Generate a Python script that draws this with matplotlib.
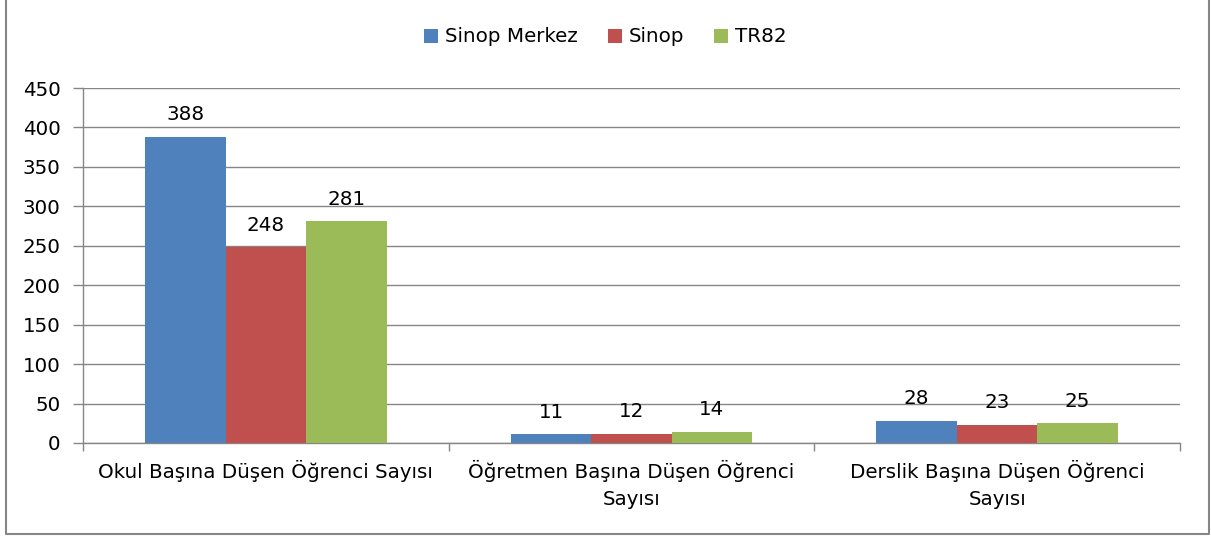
import numpy as np
import matplotlib.pyplot as plt
from matplotlib.lines import Line2D

categories = ["Okul Başına Düşen Öğrenci Sayısı",
              "Öğretmen Başına Düşen Öğrenci\nSayısı",
              "Derslik Başına Düşen Öğrenci\nSayısı"]
series_names = ["Sinop Merkez", "Sinop", "TR82"]
sinop_merkez = [388, 11, 28]
sinop = [248, 12, 23]
tr82 = [281, 14, 25]
colors = ["#4F81BD", "#C0504D", "#9BBB59"]

plt.rcParams['font.family'] = ['DejaVu Sans']
fs = 14.3
fig = plt.figure(figsize=(12.11, 5.36), dpi=100)
ax = fig.add_axes([83 / 1211, 93 / 536, 1097 / 1211, 355 / 536])

x = np.arange(len(categories))
w = 0.22
grid_c = "#868686"
for i, (name, vals) in enumerate(zip(series_names, [sinop_merkez, sinop, tr82])):
    bars = ax.bar(x + (i - 1) * w, vals, w, color=colors[i], label=name, zorder=3)
    for b, v in zip(bars, vals):
        ax.annotate(str(v), (b.get_x() + b.get_width() / 2, v), xytext=(0, 9),
                    textcoords="offset points", ha="center", va="bottom",
                    fontsize=fs, zorder=4)

ax.set_xlim(-0.5, 2.5)
ax.set_ylim(0, 450)
ax.set_yticks(range(0, 451, 50))
ax.yaxis.grid(True, color=grid_c, linewidth=1, zorder=0)
ax.set_xticks([-0.5, 0.5, 1.5, 2.5], minor=False)
ax.set_xticklabels([])
ax.set_xticks(x, minor=True)
ax.set_xticklabels(categories, minor=True, fontsize=fs, linespacing=1.55)
ax.tick_params(axis="x", which="minor", length=0, pad=12)
ax.tick_params(axis="x", which="major", length=6, color=grid_c, width=1)
ax.tick_params(axis="y", length=7, color=grid_c, width=1, labelsize=fs, pad=9)
for s in ["top", "right"]:
    ax.spines[s].set_visible(False)
for s in ["left", "bottom"]:
    ax.spines[s].set_color(grid_c)
    ax.spines[s].set_linewidth(1)

fig.legend(loc="center", bbox_to_anchor=(0.5, 1 - 37 / 536), ncol=3,
           frameon=False, fontsize=fs, handlelength=0.7, handleheight=0.7,
           handletextpad=0.35, columnspacing=1.5)

# outer chart border (top edge lies outside the image)
bx = [5.5 / 1211, 5.5 / 1211, 1208.5 / 1211, 1208.5 / 1211]
by = [1.0, 2.5 / 536, 2.5 / 536, 1.0]
fig.add_artist(Line2D(bx, by, transform=fig.transFigure, color="#868686", linewidth=1.5))

fig.savefig("out.png", dpi=100)
